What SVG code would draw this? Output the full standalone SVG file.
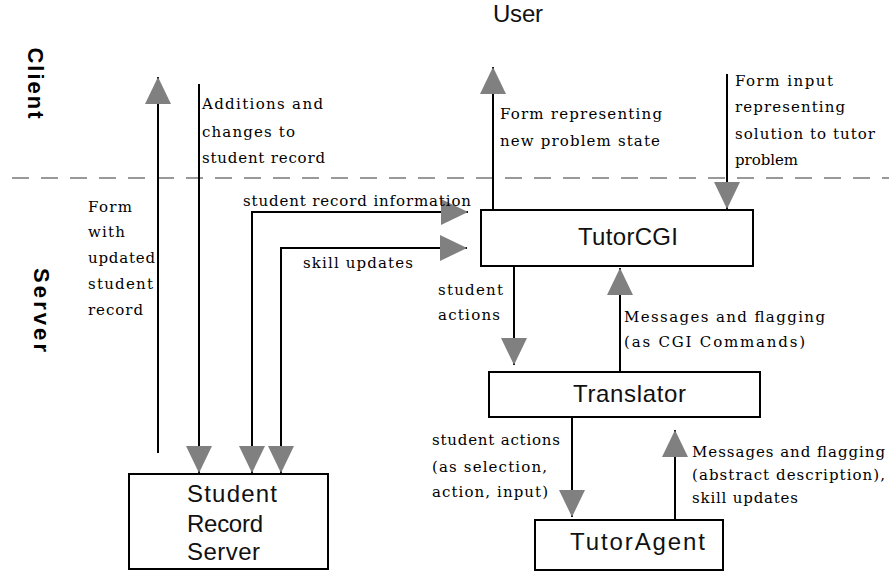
<svg xmlns="http://www.w3.org/2000/svg" width="889" height="571" viewBox="0 0 889 571">
<style>
.box{fill:#fff;stroke:#000;stroke-width:2}
.big{font-family:"Liberation Sans",Arial,sans-serif;font-size:24px;fill:#111}
.lbl{font-family:"DejaVu Serif","Liberation Serif",serif;font-size:15px;fill:#000}
.side{font-family:"Liberation Sans",Arial,sans-serif;font-size:22px;font-weight:bold;fill:#000}
.con{fill:none;stroke:#000;stroke-width:2}
</style>
<defs>
<marker id="ah" markerUnits="userSpaceOnUse" viewBox="0 0 27 26" refX="27" refY="13" markerWidth="27" markerHeight="26" orient="auto-start-reverse">
<path d="M0,0 L27,13 L0,26 Z" fill="#808080"/>
</marker>
</defs>
<rect width="889" height="571" fill="#fff"/>
<line x1="12" y1="178" x2="889" y2="178" stroke="#999" stroke-width="2" stroke-dasharray="17 12"/>
<text class="big" x="493" y="22" font-size="19" textLength="50" lengthAdjust="spacing">User</text>
<text class="side" transform="translate(28,83) rotate(90)" text-anchor="middle" textLength="71" lengthAdjust="spacing">Client</text>
<text class="side" transform="translate(34,310) rotate(90)" text-anchor="middle" textLength="84" lengthAdjust="spacing">Server</text>
<g id="connectors">
<line class="con" x1="158" y1="453" x2="158" y2="77" marker-end="url(#ah)"/>
<line class="con" x1="199" y1="84" x2="199" y2="473" marker-end="url(#ah)"/>
<path class="con" d="M252,473 L252,212 L468,212" marker-start="url(#ah)" marker-end="url(#ah)"/>
<path class="con" d="M281,473 L281,248 L467,248" marker-start="url(#ah)" marker-end="url(#ah)"/>
<line class="con" x1="493" y1="210" x2="493" y2="67" marker-end="url(#ah)"/>
<line class="con" x1="727" y1="74" x2="727" y2="209" marker-end="url(#ah)"/>
<line class="con" x1="514" y1="266" x2="514" y2="365" marker-end="url(#ah)"/>
<line class="con" x1="620" y1="372" x2="620" y2="268" marker-end="url(#ah)"/>
<line class="con" x1="572" y1="417" x2="572" y2="517" marker-end="url(#ah)"/>
<line class="con" x1="675" y1="520" x2="675" y2="430" marker-end="url(#ah)"/>
<text class="lbl" x="88" y="212" textLength="44" lengthAdjust="spacing">Form</text>
<text class="lbl" x="88" y="237" textLength="37" lengthAdjust="spacing">with</text>
<text class="lbl" x="88" y="263" textLength="67" lengthAdjust="spacing">updated</text>
<text class="lbl" x="88" y="289" textLength="65" lengthAdjust="spacing">student</text>
<text class="lbl" x="88" y="315" textLength="55" lengthAdjust="spacing">record</text>
<text class="lbl" x="202" y="109" textLength="121" lengthAdjust="spacing">Additions and</text>
<text class="lbl" x="202" y="137" textLength="93" lengthAdjust="spacing">changes to</text>
<text class="lbl" x="202" y="163" textLength="123" lengthAdjust="spacing">student record</text>
<text class="lbl" x="243" y="206" textLength="228" lengthAdjust="spacing">student record information</text>
<text class="lbl" x="303" y="268" textLength="110" lengthAdjust="spacing">skill updates</text>
<text class="lbl" x="500" y="119" textLength="162" lengthAdjust="spacing">Form representing</text>
<text class="lbl" x="500" y="146" textLength="160" lengthAdjust="spacing">new problem state</text>
<text class="lbl" x="735" y="86" textLength="98" lengthAdjust="spacing">Form input</text>
<text class="lbl" x="735" y="112" textLength="110" lengthAdjust="spacing">representing</text>
<text class="lbl" x="735" y="139" textLength="140" lengthAdjust="spacing">solution to tutor</text>
<text class="lbl" x="735" y="165" textLength="63" lengthAdjust="spacing">problem</text>
<text class="lbl" x="438" y="295" textLength="65" lengthAdjust="spacing">student</text>
<text class="lbl" x="438" y="320" textLength="62" lengthAdjust="spacing">actions</text>
<text class="lbl" x="624" y="322" textLength="201" lengthAdjust="spacing">Messages and flagging</text>
<text class="lbl" x="624" y="347" textLength="181" lengthAdjust="spacing">(as CGI Commands)</text>
<text class="lbl" x="432" y="445" textLength="128" lengthAdjust="spacing">student actions</text>
<text class="lbl" x="432" y="472" textLength="115" lengthAdjust="spacing">(as selection,</text>
<text class="lbl" x="432" y="497" textLength="116" lengthAdjust="spacing">action, input)</text>
<text class="lbl" x="692" y="457" textLength="193" lengthAdjust="spacing">Messages and flagging</text>
<text class="lbl" x="692" y="480" textLength="193" lengthAdjust="spacing">(abstract description),</text>
<text class="lbl" x="692" y="503" textLength="106" lengthAdjust="spacing">skill updates</text>
</g>
<g id="tutorcgi">
<rect class="box" x="481" y="210" width="272" height="56"/>
<text class="big" x="578" y="245" textLength="100" lengthAdjust="spacing">TutorCGI</text>
</g>
<g id="translator">
<rect class="box" x="489" y="372" width="271" height="45"/>
<text class="big" x="573" y="402" textLength="113" lengthAdjust="spacing">Translator</text>
</g>
<g id="tutoragent">
<rect class="box" x="535" y="520" width="188" height="50"/>
<text class="big" x="570" y="550" textLength="135" lengthAdjust="spacing">TutorAgent</text>
</g>
<g id="studentrecordserver">
<rect class="box" x="129" y="474" width="199" height="95"/>
<text class="big" x="187" y="502" font-size="22" textLength="90" lengthAdjust="spacing">Student</text>
<text class="big" x="187" y="532" font-size="22" textLength="76" lengthAdjust="spacing">Record</text>
<text class="big" x="187" y="560" font-size="22" textLength="73" lengthAdjust="spacing">Server</text>
</g>
</svg>
